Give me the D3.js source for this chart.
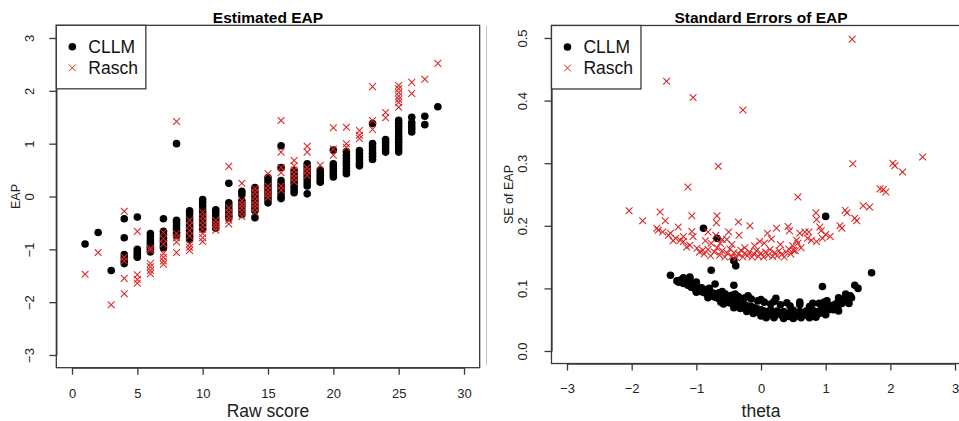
<!DOCTYPE html>
<html>
<head>
<meta charset="utf-8">
<script src="https://cdn.jsdelivr.net/npm/d3@7"></script>
<style>
  body { margin: 0; background: #fff; }
  svg { display: block; font-family: "Liberation Sans", Arial, sans-serif; }
</style>
</head>
<body>
<svg id="chart" width="959" height="421"></svg>
<script>
// ---- left panel: EAP by raw score ----
const rawScores = [1, 2, 3, 4, 5, 6, 7, 8, 9, 10, 11, 12, 13, 14, 15, 16, 17, 18, 19, 20, 21, 22, 23, 24, 25, 26, 27, 28]

const cllmEap = [
    [-0.90],
    [-0.68],
    [-1.40],
    [-0.42, -0.78, -1.10, -1.16, -1.22, -1.27],
    [-0.39, -1.00, -1.04, -1.08, -1.12, -1.15],
    [-0.70, -0.76, -0.82, -0.87, -0.92, -0.96, -1.00, -1.05],
    [-0.42, -0.66, -0.72, -0.78, -0.83, -0.88, -0.93, -0.97],
    [1.00, -0.45, -0.50, -0.56, -0.62, -0.68, -0.74],
    [-0.27, -0.33, -0.40, -0.46, -0.52, -0.58, -0.64, -0.70, -0.76, -0.82],
    [-0.06, -0.12, -0.18, -0.25, -0.31, -0.37, -0.43, -0.50, -0.56, -0.62],
    [-0.25, -0.30, -0.36, -0.42, -0.48, -0.54, -0.60],
    [0.25, -0.12, -0.18, -0.24, -0.30, -0.36, -0.40],
    [0.10, 0.04, -0.08, -0.14, -0.20, -0.27, -0.34],
    [0.17, 0.10, 0.03, -0.04, -0.10, -0.16, -0.22, -0.27, -0.40],
    [0.36, 0.30, 0.24, 0.18, 0.12, 0.06, 0.00, -0.06, -0.12],
    [0.96, 0.55, 0.30, 0.24, 0.18, 0.12, 0.06, 0.00, -0.04],
    [0.49, 0.43, 0.37, 0.31, 0.25, 0.19, 0.13, 0.07],
    [0.62, 0.56, 0.50, 0.44, 0.38, 0.32, 0.26, 0.20, 0.05],
    [0.50, 0.45, 0.40, 0.35, 0.30, 0.27],
    [0.88, 0.62, 0.57, 0.52, 0.47, 0.42, 0.37],
    [0.85, 0.78, 0.72, 0.66, 0.60, 0.54, 0.48, 0.43],
    [0.87, 0.81, 0.75, 0.69, 0.63, 0.58],
    [1.38, 1.00, 0.94, 0.88, 0.82, 0.76, 0.70],
    [1.08, 1.02, 0.96, 0.90, 0.84],
    [1.44, 1.38, 1.32, 1.26, 1.20, 1.14, 1.08, 1.02, 0.96, 0.90, 0.84],
    [1.50, 1.40, 1.34, 1.28, 1.22],
    [1.52, 1.36],
    [1.70],
]

const raschEap = [
    [-1.47],
    [-1.06],
    [-2.05],
    [-0.28, -1.15, -1.22, -1.55, -1.84],
    [-0.66, -1.48, -1.57, -1.64],
    [-0.98, -1.02, -1.27, -1.33, -1.40, -1.46],
    [-0.68, -0.80, -0.90, -1.08, -1.15, -1.22, -1.28],
    [1.42, -0.70, -0.78, -0.86, -1.06],
    [-0.45, -0.55, -0.65, -0.75, -0.90, -0.96, -1.02],
    [-0.30, -0.38, -0.46, -0.54, -0.62, -0.70, -0.78, -0.85],
    [-0.45, -0.52, -0.58, -0.64],
    [0.57, -0.22, -0.30, -0.38, -0.45, -0.52],
    [0.25, -0.08, -0.15, -0.22, -0.30, -0.38],
    [0.15, 0.08, 0.00, -0.08, -0.15, -0.22, -0.30],
    [0.43, 0.20, 0.12, 0.05, -0.02],
    [1.44, 0.84, 0.55, 0.45, 0.20, 0.12],
    [0.68, 0.58, 0.50, 0.42, 0.35, 0.28],
    [0.95, 0.84, 0.55, 0.48, 0.40],
    [0.59],
    [1.30, 0.90, 0.78],
    [1.31, 1.00, 0.93],
    [1.25, 1.16, 1.10],
    [2.08, 1.44, 1.27],
    [1.59, 1.49],
    [2.10, 2.04, 1.97, 1.90, 1.84, 1.78, 1.69],
    [2.16, 1.95],
    [2.22],
    [2.52],
]

// ---- right panel: standard errors, [theta, se] ----
const cllmSE = [
    [-1.40, 0.121], [-0.89, 0.196], [-0.68, 0.180], [-0.42, 0.144], [-0.39, 0.136], [-0.77, 0.129],
    [-0.71, 0.107], [-0.42, 0.105], [1.00, 0.215], [1.71, 0.125], [0.95, 0.103], [1.45, 0.105],
    [1.50, 0.100], [0.23, 0.084], [-1.25, 0.113], [-1.10, 0.118],
    [-1.30, 0.112], [-1.27, 0.110], [-1.24, 0.113], [-1.20, 0.108], [-1.17, 0.111], [-1.13, 0.105],
    [-1.10, 0.115], [-1.08, 0.102], [-1.05, 0.106], [-1.02, 0.099], [-1.00, 0.103], [-0.97, 0.100],
    [-0.95, 0.096], [-0.92, 0.101], [-0.90, 0.094], [-0.87, 0.098], [-0.85, 0.092], [-0.83, 0.096],
    [-0.80, 0.090], [-0.78, 0.094], [-0.76, 0.088], [-0.73, 0.092], [-0.71, 0.086], [-0.69, 0.090],
    [-0.66, 0.084], [-0.64, 0.088], [-0.62, 0.083], [-0.60, 0.087], [-0.58, 0.080], [-0.55, 0.085],
    [-0.53, 0.079], [-0.51, 0.083], [-0.49, 0.077], [-0.47, 0.082], [-0.45, 0.076], [-0.43, 0.080],
    [-0.41, 0.074], [-0.38, 0.079], [-0.36, 0.073], [-0.34, 0.077], [-0.31, 0.071], [-0.29, 0.076],
    [-0.27, 0.069], [-0.25, 0.074], [-0.22, 0.068], [-0.20, 0.072], [-0.18, 0.066], [-0.15, 0.071],
    [-0.13, 0.064], [-0.10, 0.069], [-0.08, 0.063], [-0.05, 0.067], [-0.03, 0.061], [0.00, 0.066],
    [0.02, 0.058], [0.05, 0.064], [0.07, 0.056], [0.10, 0.063], [0.12, 0.060], [0.15, 0.066],
    [0.17, 0.058], [0.20, 0.062], [0.22, 0.057], [0.25, 0.064], [0.27, 0.059], [0.30, 0.061],
    [0.33, 0.056], [0.35, 0.063], [0.38, 0.058], [0.40, 0.060], [0.43, 0.055], [0.45, 0.062],
    [0.48, 0.057], [0.50, 0.065], [0.53, 0.058], [0.55, 0.061], [0.58, 0.056], [0.60, 0.063],
    [0.63, 0.058], [0.65, 0.061], [0.68, 0.057], [0.70, 0.064], [0.73, 0.059], [0.75, 0.062],
    [0.78, 0.058], [0.80, 0.065], [0.83, 0.060], [0.85, 0.057], [0.88, 0.063], [0.90, 0.060],
    [0.93, 0.066], [0.95, 0.062], [0.98, 0.068], [1.00, 0.064], [1.03, 0.070], [1.05, 0.066],
    [1.08, 0.072], [1.10, 0.068], [1.13, 0.074], [1.15, 0.071], [1.18, 0.077], [1.20, 0.073],
    [1.23, 0.080], [1.25, 0.076], [1.28, 0.083], [1.30, 0.079], [1.33, 0.086], [1.35, 0.082],
    [1.38, 0.088], [1.40, 0.085],
    [-0.65, 0.093], [-0.55, 0.091], [-0.45, 0.089], [-0.35, 0.087], [-0.25, 0.085], [-0.15, 0.083],
    [-0.05, 0.080], [0.05, 0.078], [0.15, 0.075], [0.30, 0.074], [0.45, 0.072], [0.60, 0.074],
    [0.75, 0.071], [0.90, 0.076], [0.98, 0.078], [-0.58, 0.075], [-0.32, 0.068], [-0.12, 0.060],
    [0.08, 0.053], [0.35, 0.052], [0.62, 0.053], [0.85, 0.054], [1.12, 0.066],
    [-1.20, 0.117], [-1.00, 0.110], [-0.80, 0.100], [-0.60, 0.095], [-0.40, 0.091], [-0.20, 0.088],
    [0.00, 0.082], [0.20, 0.079], [0.40, 0.077], [0.60, 0.078], [0.80, 0.076], [1.02, 0.080],
    [1.20, 0.085], [1.31, 0.091], [-1.00, 0.094], [-0.82, 0.085], [-0.62, 0.078], [-0.42, 0.069],
    [-0.22, 0.063], [0.00, 0.056], [0.20, 0.053], [0.50, 0.052], [0.75, 0.053], [1.00, 0.058],
    [1.20, 0.064], [1.36, 0.076],
]

const raschSE = [
    [-1.46, 0.431], [-1.05, 0.405], [-0.28, 0.385], [-0.66, 0.295], [-1.13, 0.262], [1.41, 0.498],
    [1.42, 0.299], [2.50, 0.310], [2.04, 0.300], [2.07, 0.296], [2.19, 0.286], [1.84, 0.259],
    [1.89, 0.258], [1.93, 0.254], [0.57, 0.246], [1.58, 0.232], [1.68, 0.230], [1.30, 0.225],
    [1.33, 0.221], [-2.04, 0.224], [-1.83, 0.208], [-1.56, 0.222], [-1.48, 0.208], [-1.61, 0.196],
    [-1.59, 0.193], [-1.43, 0.185], [-1.40, 0.188], [-1.28, 0.198], [-1.25, 0.177], [-1.20, 0.183],
    [-1.07, 0.216], [-1.07, 0.191], [-1.05, 0.183], [-1.10, 0.169], [-0.99, 0.164], [-0.90, 0.161],
    [-0.68, 0.216], [-0.69, 0.205], [-0.82, 0.190], [-0.77, 0.172], [-0.63, 0.172], [-0.53, 0.178],
    [-0.35, 0.206], [-0.34, 0.185], [-0.17, 0.200], [-0.02, 0.175], [0.85, 0.221], [0.86, 0.210],
    [1.45, 0.212], [1.48, 0.208], [1.22, 0.200], [1.25, 0.196], [1.07, 0.183], [0.91, 0.198],
    [0.93, 0.192], [0.74, 0.190], [0.68, 0.190], [0.60, 0.188], [0.42, 0.199], [0.44, 0.192],
    [0.24, 0.196], [0.16, 0.179], [0.50, 0.161], [0.55, 0.177], [0.78, 0.177], [0.86, 0.175],
    [1.00, 0.186],
    [-0.95, 0.158], [-0.88, 0.155], [-0.82, 0.162], [-0.78, 0.152], [-0.72, 0.158], [-0.68, 0.165],
    [-0.64, 0.153], [-0.60, 0.160], [-0.56, 0.150], [-0.52, 0.156], [-0.48, 0.163], [-0.45, 0.151],
    [-0.42, 0.157], [-0.38, 0.149], [-0.35, 0.155], [-0.31, 0.161], [-0.28, 0.150], [-0.25, 0.156],
    [-0.21, 0.152], [-0.18, 0.158], [-0.14, 0.150], [-0.11, 0.155], [-0.07, 0.160], [-0.04, 0.151],
    [0.00, 0.156], [0.04, 0.150], [0.07, 0.158], [0.11, 0.153], [0.14, 0.162], [0.18, 0.151],
    [0.21, 0.157], [0.25, 0.152], [0.28, 0.160], [0.32, 0.154], [0.36, 0.150], [0.39, 0.158],
    [0.43, 0.163], [0.46, 0.155], [0.49, 0.168], [0.53, 0.160], [0.57, 0.172], [0.62, 0.165],
    [-0.60, 0.178], [-0.45, 0.170], [-0.10, 0.168], [0.05, 0.172], [0.30, 0.170], [-0.25, 0.165],
    [-1.20, 0.175], [-1.32, 0.180], [-0.70, 0.185], [0.72, 0.180], [0.95, 0.180],
    [-1.52, 0.190], [-1.36, 0.176], [-1.15, 0.166], [-0.86, 0.176], [-0.50, 0.190], [0.10, 0.188],
]

const leftXTicks = [0, 5, 10, 15, 20, 25, 30]
const leftYTicks = [-3, -2, -1, 0, 1, 2, 3]
const rightXTicks = [-3, -2, -1, 0, 1, 2, 3]
const rightYTicks = [0, 0.1, 0.2, 0.3, 0.4, 0.5]
const seriesNames = ["CLLM", "Rasch"]

const svg = d3.select("#chart")
const boxColor = "#3a3a3a"
const red = "#de2424"
const crossPath = s => `M${-s},${-s}L${s},${s}M${-s},${s}L${s},${-s}`

function drawPanel(cfg) {
    const {x, y, xLim, yLim} = cfg
    const g = svg.append("g")

    // CLLM dots first, Rasch crosses drawn over them
    g.append("g").selectAll("circle")
        .data(cfg.dots)
        .join("circle")
        .attr("cx", d => x(d[0]))
        .attr("cy", d => y(d[1]))
        .attr("r", 3.8)
        .attr("fill", "#000")

    g.append("g").selectAll("path")
        .data(cfg.crosses)
        .join("path")
        .attr("d", crossPath(3.4))
        .attr("transform", d => `translate(${x(d[0])},${y(d[1])})`)
        .attr("fill", "none")
        .attr("stroke", red)
        .attr("stroke-width", 1.05)

    const x0 = x(xLim[0]), x1 = x(xLim[1]), y0 = y(yLim[0]), y1 = y(yLim[1])

    g.append("rect")
        .attr("x", x0).attr("y", y1)
        .attr("width", x1 - x0).attr("height", y0 - y1)
        .attr("fill", "none").attr("stroke", boxColor).attr("stroke-width", 1.3)

    const xAxis = g.append("g")
        .attr("transform", `translate(0,${y0})`)
        .call(d3.axisBottom(x).tickValues(cfg.xTicks).tickSize(7).tickSizeOuter(0)
            .tickPadding(cfg.xPad).tickFormat(d3.format("d")))
    xAxis.selectAll("text").attr("font-size", 13).attr("fill", "#222").attr("font-family", null)

    const yAxis = g.append("g")
        .attr("transform", `translate(${x0},0)`)
        .call(d3.axisLeft(y).tickValues(cfg.yTicks).tickSize(7).tickSizeOuter(0).tickFormat(cfg.yFormat))
    yAxis.selectAll("text")
        .attr("x", null).attr("dy", null)
        .attr("transform", `translate(${-cfg.yPad},0) rotate(-90)`)
        .attr("text-anchor", "middle")
        .attr("font-size", 13).attr("fill", "#222").attr("font-family", null)

    g.selectAll(".domain, .tick line").attr("stroke", boxColor).attr("stroke-width", 1.3)

    const cx = (x0 + x1) / 2
    g.append("text")
        .attr("x", cx).attr("y", 22.5)
        .attr("text-anchor", "middle")
        .attr("font-size", 15.5).attr("font-weight", "bold")
        .text(cfg.title)

    g.append("text")
        .attr("x", cx).attr("y", 417)
        .attr("text-anchor", "middle")
        .attr("font-size", 17.5).attr("fill", "#222")
        .text(cfg.xLabel)

    g.append("text")
        .attr("transform", `translate(${cfg.yLabelX},${(y0 + y1) / 2}) rotate(-90)`)
        .attr("text-anchor", "middle")
        .attr("font-size", 12.5).attr("fill", "#222")
        .text(cfg.yLabel)

    // legend
    const lg = g.append("g")
    lg.append("rect")
        .attr("x", x0).attr("y", y1)
        .attr("width", cfg.legendW).attr("height", 63.5)
        .attr("fill", "#fff").attr("stroke", boxColor).attr("stroke-width", 1.3)
    lg.append("circle")
        .attr("cx", x0 + 16).attr("cy", y1 + 21.5).attr("r", 3.8).attr("fill", "#000")
    lg.append("path")
        .attr("d", crossPath(3.4))
        .attr("transform", `translate(${x0 + 16},${y1 + 42.5})`)
        .attr("fill", "none").attr("stroke", red).attr("stroke-width", 1)
    lg.selectAll("text")
        .data(seriesNames)
        .join("text")
        .attr("x", x0 + 32)
        .attr("y", (d, i) => y1 + 27.5 + i * 21)
        .attr("font-size", 17.5).attr("fill", "#111")
        .text(d => d)
}

// left panel
const leftX = d3.scaleLinear([0, 30], [72, 464])
const leftY = d3.scaleLinear([-3, 3], [355, 38])
const flat = lists => rawScores.flatMap((s, i) => lists[i].map(v => [s, v]))

drawPanel({
    x: leftX, y: leftY,
    xLim: [-1.2, 31.2], yLim: [-3.24, 3.24],
    xTicks: leftXTicks, yTicks: leftYTicks, yFormat: d3.format("d"),
    xPad: 14, yPad: 22,
    dots: flat(cllmEap), crosses: flat(raschEap),
    title: "Estimated EAP", xLabel: "Raw score", yLabel: "EAP", yLabelX: 20,
    legendW: 89.5,
})

// right panel
const rightX = d3.scaleLinear([-3, 3], [567, 955])
const rightY = d3.scaleLinear([0, 0.5], [351, 38])

drawPanel({
    x: rightX, y: rightY,
    xLim: [-3.24, 3.24], yLim: [-0.02, 0.52],
    xTicks: rightXTicks, yTicks: rightYTicks, yFormat: d3.format(".1f"),
    xPad: 13, yPad: 24,
    dots: cllmSE, crosses: raschSE,
    title: "Standard Errors of EAP", xLabel: "theta", yLabel: "SE of EAP", yLabelX: 513,
    legendW: 89.5,
})

// thin grey frame edge between the two pictures
svg.append("line")
    .attr("x1", 486.5).attr("x2", 486.5).attr("y1", 26).attr("y2", 365)
    .attr("stroke", "#c4c4c4").attr("stroke-width", 1)
</script>
</body>
</html>
